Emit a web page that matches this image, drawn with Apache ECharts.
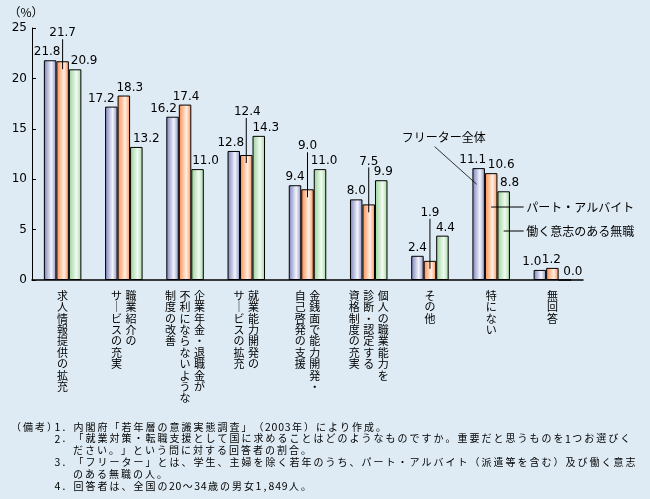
<!DOCTYPE html>
<html><head><meta charset="utf-8">
<script src="https://cdn.jsdelivr.net/npm/echarts@6/dist/echarts.min.js"></script>
<style>html,body{margin:0;padding:0;background:#DEEBF4;} #chart{width:650px;height:499px;}</style>
</head><body><div id="chart"></div>
<script>
// ---- data ----
const categories = [
  '求人情報提供の拡充',
  '職業紹介の\nサービスの充実',
  '企業年金・退職金が\n不利にならないような\n制度の改善',
  '就業能力開発の\nサービスの拡充',
  '金銭面で能力開発・\n自己啓発の支援',
  '個人の職業能力を\n診断・認定する\n資格制度の充実',
  'その他',
  '特にない',
  '無回答'
];
const seriesNames = ['フリーター全体', 'パート・アルバイト', '働く意志のある無職'];
const freeterAll = [21.8, 17.2, 16.2, 12.8, 9.4, 8.0, 2.4, 11.1, 1.0];
const partTime   = [21.7, 18.3, 17.4, 12.4, 9.0, 7.5, 1.9, 10.6, 1.2];
const jobless    = [20.9, 13.2, 11.0, 14.3, 11.0, 9.9, 4.4, 8.8, 0.0];
const yTicks = [0, 5, 10, 15, 20, 25];
const yName = '（%）';
const notes = [
  '1．内閣府「若年層の意識実態調査」（2003年）により作成。',
  '2．「就業対策・転職支援として国に求めることはどのようなものですか。重要だと思うものを1つお選びく',
  'ださい。」という問に対する回答者の割合。',
  '3．「フリーター」とは、学生、主婦を除く若年のうち、パート・アルバイト（派遣等を含む）及び働く意志',
  'のある無職の人。',
  '4．回答者は、全国の20～34歳の男女1,849人。'
];
const notesHead = '（備考）';

// ---- label placement (style only) ----
const shiftAll = [-3, -10, -9, -3, 0, 0, 0, -6, -8];
const shiftPart = [0, 6, 1, 1, 0, 0, 0, 10, -1];
const shiftJobless = [9, 10, 8, 7, 4, 2, 3, 6, 8];
const partLeaderRise = [20, 0, 0, 35, 35, 35, 40, 0, 0];
const calloutCat = 7;
const calloutVals = [9.5, 7.24, 4.86];

const BW = 12.5;
function grad(c1, c2, c3) {
  return new echarts.graphic.LinearGradient(0, 0, 1, 0, [
    {offset: 0, color: c1}, {offset: 0.6, color: c2}, {offset: 1, color: c3}
  ]);
}
const colors = [
  grad('#7880B8', '#F4F4FC', '#8890C4'),
  grad('#FF8848', '#FFF0E4', '#FF9058'),
  grad('#96D296', '#F2FAF2', '#A2D8A2')
];
const numFont = 'DejaVu Sans';
const cjkFont = 'Noto Sans CJK JP';
function mk(vals, shift, rise) {
  return vals.map((v, i) => ({value: v, label: {offset: [shift[i], -(rise ? rise[i] : 0)]}}));
}
function barSeries(idx, vals, shift, rise) {
  return {
    name: seriesNames[idx], type: 'bar', barWidth: BW, barGap: '0%',
    data: mk(vals, shift, rise),
    itemStyle: {color: colors[idx], borderColor: '#000', borderWidth: 1},
    label: {show: true, position: 'top', distance: 2, fontSize: 12, fontFamily: numFont, color: '#000',
      formatter: p => p.value.toFixed(1)},
    emphasis: {disabled: true}, animation: false, z: 2
  };
}
function conv(ch) { return ch === 'ー' ? '｜' : ch; }

const option = {
  backgroundColor: '#DEEBF4',
  animation: false,
  grid: {left: 32, right: 67, top: 28, bottom: 219},
  xAxis: {
    type: 'category', data: categories,
    axisLine: {lineStyle: {color: '#000', width: 1.5}},
    axisTick: {show: false},
    axisLabel: {
      interval: 0, margin: 10, verticalAlign: 'top',
      formatter: (val) => {
        const cols = val.split('\n').reverse();
        const n = Math.max(...cols.map(c => c.length));
        const rows = [];
        for (let r = 0; r < n; r++) {
          rows.push(cols.map(c => '{c|' + (c[r] ? conv(c[r]) : '　') + '}').join(''));
        }
        return rows.join('\n');
      },
      rich: {c: {width: 14.5, align: 'center', fontSize: 11, lineHeight: 11.4,
        fontFamily: cjkFont, color: '#000'}}
    }
  },
  yAxis: {
    type: 'value', min: yTicks[0], max: yTicks[yTicks.length - 1], interval: 5,
    name: yName, nameLocation: 'end', nameGap: 10,
    nameTextStyle: {color: '#000', fontSize: 12, fontFamily: cjkFont, align: 'center', padding: [0, 12, 0, 0]},
    axisLine: {show: true, lineStyle: {color: '#000', width: 1}},
    axisTick: {show: true, inside: true, length: 4, lineStyle: {color: '#000'}},
    axisLabel: {color: '#000', fontSize: 12, fontFamily: numFont, margin: 5},
    splitLine: {show: false}
  },
  series: [
    barSeries(0, freeterAll, shiftAll),
    barSeries(1, partTime, shiftPart, partLeaderRise),
    barSeries(2, jobless, shiftJobless),
    {
      type: 'custom', silent: true, z: 5, animation: false,
      encode: {x: 0, y: 1},
      data: partTime.map((v, i) => [i, v, partLeaderRise[i]]).filter(d => d[2] > 0),
      renderItem: (params, api) => {
        const p = api.coord([api.value(0), api.value(1)]);
        const rise = api.value(2);
        return {type: 'line', shape: {x1: p[0], y1: p[1] - rise - 2, x2: p[0], y2: p[1] + 8},
          style: {stroke: '#000', lineWidth: 1}};
      }
    }
  ]
};

const chart = echarts.init(document.getElementById('chart'), null, {renderer: 'canvas'});
chart.setOption(option);

// callouts anchored to bars of category "特にない"
const px = (c, v) => chart.convertToPixel({xAxisIndex: 0, yAxisIndex: 0}, [c, v]);
const a0 = px(calloutCat, calloutVals[0]);
const a1 = px(calloutCat, calloutVals[1]);
const a2 = px(calloutCat, calloutVals[2]);
const txtStyle = {fill: '#000', fontSize: 12, fontFamily: cjkFont, verticalAlign: 'middle'};
const b0x = a0[0] - BW - 2, b1x = a1[0], b2x = a2[0] + BW;
const graphics = [
  {type: 'line', shape: {x1: b0x - 42, y1: a0[1] - 37.6, x2: b0x, y2: a0[1]}, style: {stroke: '#000', lineWidth: 0.8}, z: 10},
  {type: 'text', x: b0x - 75, y: a0[1] - 47, style: Object.assign({text: seriesNames[0], align: 'left'}, txtStyle), z: 10},
  {type: 'line', shape: {x1: b1x, y1: a1[1], x2: b1x + 32.5, y2: a1[1]}, style: {stroke: '#000', lineWidth: 1}, z: 10},
  {type: 'text', x: b1x + 35, y: a1[1], style: Object.assign({text: seriesNames[1], align: 'left'}, txtStyle), z: 10},
  {type: 'line', shape: {x1: b2x, y1: a2[1], x2: b1x + 32.5, y2: a2[1]}, style: {stroke: '#000', lineWidth: 1}, z: 10},
  {type: 'text', x: b1x + 35, y: a2[1], style: Object.assign({text: seriesNames[2], align: 'left'}, txtStyle), z: 10}
];

// notes: wide-spaced small glyphs like the reference bitmap font
function richify(s) {
  let out = '';
  for (const ch of s) {
    out += (ch.charCodeAt(0) > 0xFF ? '{w|' : '{n|') + ch + '}';
  }
  return out;
}
const noteRich = {
  w: {width: 12, align: 'center', fontSize: 10, fontFamily: cjkFont, fill: '#000', color: '#000'},
  n: {width: 6.6, align: 'center', fontSize: 10.5, fontFamily: cjkFont, fill: '#000', color: '#000'}
};
const noteStyle = () => ({fill: '#000', verticalAlign: 'middle', align: 'left', rich: noteRich});
const noteTop = 426.8, noteStep = 11.8;
graphics.push({type: 'text', x: 10, y: noteTop, style: Object.assign({text: richify(notesHead)}, noteStyle())});
notes.forEach((t, i) => {
  const cont = !/^\d/.test(t);
  graphics.push({type: 'text', x: cont ? 72 : 54, y: noteTop + i * noteStep,
    style: Object.assign({text: richify(t)}, noteStyle())});
});
chart.setOption({graphic: graphics});
</script>
</body></html>
